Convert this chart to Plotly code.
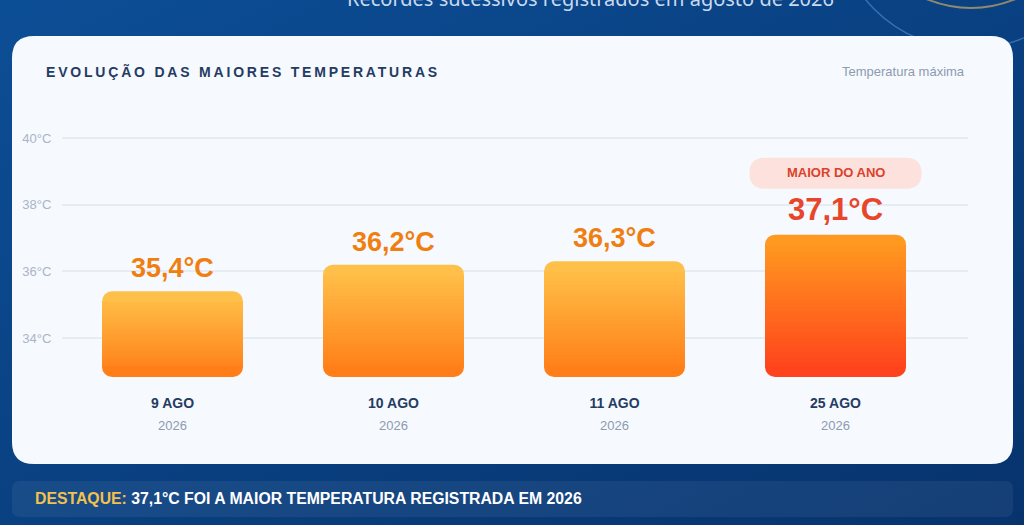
"""Evolução das maiores temperaturas - recriação em Plotly"""
import base64
import plotly.graph_objects as go

W, H = 1024, 525

# dados do gráfico
DATES = ["9 AGO", "10 AGO", "11 AGO", "25 AGO"]
YEARS = ["2026", "2026", "2026", "2026"]
TEMPS = [35.4, 36.2, 36.3, 37.1]
Y_TICKS = [34, 36, 38, 40]
Y_MIN, Y_MAX = 32.83, 41.0

TITLE = "EVOLUÇÃO DAS MAIORES TEMPERATURAS"
UNIT_NOTE = "Temperatura máxima"
SUBTITLE = "Recordes sucessivos registrados em agosto de 2026"
BADGE = "MAIOR DO ANO"
HIGHLIGHT_LABEL = "DESTAQUE:"
HIGHLIGHT_TEXT = "37,1°C FOI A MAIOR TEMPERATURA REGISTRADA EM 2026"

FONT = "Liberation Sans"
NAVY = "#243c62"
GREY = "#8d9bb0"
ORANGE_TXT = "#f07f12"
RED_TXT = "#e8462b"
# gradientes (topo, base) das barras
NORMAL_GRAD = ((255, 196, 76), (255, 122, 20))
RECORD_GRAD = ((255, 158, 32), (255, 62, 28))

# área do gráfico em pixels (passo de 221 px por categoria)
PLOT_L, PLOT_R = 62, 968
STEP = 221


def px(x):
    """pixel horizontal -> fração do papel"""
    return x / W


def py(y):
    """pixel vertical (de cima) -> fração do papel"""
    return 1 - y / H


def rounded_path(x0, y0, x1, y1, r, fx=lambda v: v, fy=lambda v: v):
    """Caminho SVG de um retângulo arredondado"""
    pts = [
        ("M", x0 + r, y0), ("L", x1 - r, y0), ("Q", x1, y0, x1, y0 + r),
        ("L", x1, y1 - r), ("Q", x1, y1, x1 - r, y1), ("L", x0 + r, y1),
        ("Q", x0, y1, x0, y1 - r), ("L", x0, y0 + r), ("Q", x0, y0, x0 + r, y0),
    ]
    out = []
    for p in pts:
        coords = p[1:]
        s = " ".join(f"{fx(coords[i]):.5f},{fy(coords[i + 1]):.5f}"
                     for i in range(0, len(coords), 2))
        out.append(p[0] + s)
    return " ".join(out) + " Z"


def mix(c1, c2, t):
    return "rgb(%d,%d,%d)" % tuple(round(a + (b - a) * t) for a, b in zip(c1, c2))


def fmt(v):
    return f"{v:.1f}".replace(".", ",") + "°C"


rec = TEMPS.index(max(TEMPS))
X = list(range(len(DATES)))
grads = [RECORD_GRAD if i == rec else NORMAL_GRAD for i in X]

fig = go.Figure()

BAR_W = 141 / STEP
RADIUS = 10
EDGE = 0.33  # ~11 px: zona reservada aos cantos arredondados
mids = [(v + Y_MIN) / 2 for v in TEMPS]

# metades arredondadas (topo e base) de cada barra
fig.add_trace(go.Bar(x=X, y=[v - m for v, m in zip(TEMPS, mids)], base=mids,
                     width=BAR_W,
                     marker=dict(color=[mix(g[0], g[1], 0.05) for g in grads],
                                 line=dict(width=0), cornerradius=RADIUS),
                     hoverinfo="skip", showlegend=False))
fig.add_trace(go.Bar(x=X, y=[Y_MIN - m for m in mids], base=mids, width=BAR_W,
                     marker=dict(color=[mix(g[0], g[1], 0.95) for g in grads],
                                 line=dict(width=0), cornerradius=RADIUS),
                     hoverinfo="skip", showlegend=False))

# faixas sobrepostas para o degradê
N = 24
OVER = 0.03
for k in range(N):
    bases, heights, colors = [], [], []
    for i, v in enumerate(TEMPS):
        span = v - Y_MIN - 2 * EDGE
        lo = Y_MIN + EDGE + span * k / N - (OVER if k else 0)
        hi = Y_MIN + EDGE + span * (k + 1) / N + (OVER if k < N - 1 else 0)
        bases.append(lo)
        heights.append(hi - lo)
        t = 1 - ((lo + hi) / 2 - Y_MIN) / (v - Y_MIN)
        colors.append(mix(grads[i][0], grads[i][1], t))
    fig.add_trace(go.Bar(x=X, y=heights, base=bases, width=BAR_W,
                         marker=dict(color=colors, line=dict(width=0)),
                         hoverinfo="skip", showlegend=False))

# fundo em degradê
svg = ('<svg xmlns="http://www.w3.org/2000/svg" width="1024" height="525">'
       '<defs><linearGradient id="g" x1="0" y1="0" x2="1" y2="1">'
       '<stop offset="0" stop-color="#0c4e96"/><stop offset="1" stop-color="#07336d"/>'
       '</linearGradient></defs><rect width="1024" height="525" fill="url(#g)"/></svg>')
bg_src = "data:image/svg+xml;base64," + base64.b64encode(svg.encode()).decode()

shapes = [
    # circulos decorativos
    dict(type="circle", xref="paper", yref="paper", x0=px(835), x1=px(1105),
         y0=py(49), y1=py(-221), line=dict(color="rgba(110,170,235,0.45)", width=1.5),
         layer="below"),
    dict(type="circle", xref="paper", yref="paper", x0=px(856), x1=px(1086),
         y0=py(8), y1=py(-222), line=dict(color="rgba(200,170,100,0.7)", width=2),
         layer="below"),
    # cartão branco
    dict(type="path", xref="paper", yref="paper", layer="below",
         path=rounded_path(12, 36, 1013, 464, 22, px, py),
         fillcolor="#f6f9fe", line=dict(width=0)),
    # faixa de destaque
    dict(type="path", xref="paper", yref="paper", layer="below",
         path=rounded_path(12, 481, 1013, 517, 8, px, py),
         fillcolor="rgba(255,255,255,0.06)", line=dict(width=0)),
    # selo "maior do ano"
    dict(type="path", xref="x", yref="y", xsizemode="pixel", ysizemode="pixel",
         xanchor=rec, yanchor=TEMPS[rec], layer="above",
         path=rounded_path(-86, 46, 86, 77, 15.5),
         fillcolor="#fde1dc", line=dict(width=0)),
]

annotations = [
    dict(text=SUBTITLE, xref="paper", yref="paper", x=px(590), y=py(-2),
         xanchor="center", yanchor="middle", showarrow=False,
         font=dict(family="Noto Sans", size=20, color="#c9daf0")),
    dict(text=f'<span style="letter-spacing:2.8px">{TITLE}</span>',
         xref="paper", yref="paper", x=px(44), y=py(71), xanchor="left",
         yanchor="middle", showarrow=False,
         font=dict(family=FONT, size=14, color=NAVY, weight="bold")),
    dict(text=UNIT_NOTE, xref="paper", yref="paper", x=px(967), y=py(71),
         xanchor="right", yanchor="middle", showarrow=False,
         font=dict(family=FONT, size=13, color=GREY)),
    dict(text=BADGE, x=rec, y=TEMPS[rec], xref="x", yref="y", yshift=62,
         xanchor="center", yanchor="middle", showarrow=False,
         font=dict(family=FONT, size=13, color="#d9432b", weight="bold")),
    dict(text=f'<span style="color:#f2c14e">{HIGHLIGHT_LABEL}</span> {HIGHLIGHT_TEXT}',
         xref="paper", yref="paper", x=px(33), y=py(498), xanchor="left",
         yanchor="middle", showarrow=False,
         font=dict(family=FONT, size=15.8, color="white", weight="bold")),
]
for i, v in enumerate(TEMPS):
    annotations.append(dict(
        text=fmt(v), x=i, y=v, xref="x", yref="y", xanchor="center",
        yanchor="bottom", yshift=6, showarrow=False,
        font=dict(family=FONT, size=31 if i == rec else 27,
                  color=RED_TXT if i == rec else ORANGE_TXT, weight="bold")))
    annotations.append(dict(
        text=YEARS[i], x=i, y=py(425), xref="x", yref="paper", xanchor="center",
        yanchor="middle", showarrow=False,
        font=dict(family=FONT, size=13, color=GREY)))

fig.update_layout(
    width=W, height=H,
    margin=dict(l=0, r=0, t=0, b=0),
    paper_bgcolor="#0a4285",
    plot_bgcolor="rgba(0,0,0,0)",
    barmode="overlay",
    showlegend=False,
    images=[dict(source=bg_src, xref="paper", yref="paper", x=0, y=1, sizex=1,
                 sizey=1, sizing="stretch", xanchor="left", yanchor="top",
                 layer="below")],
    shapes=shapes,
    annotations=annotations,
    xaxis=dict(domain=[px(PLOT_L), px(PLOT_R)],
               range=[-0.5, -0.5 + (PLOT_R - PLOT_L) / STEP],
               tickvals=X, ticktext=[f"<b>{d}</b>" for d in DATES],
               tickfont=dict(family=FONT, size=14, color=NAVY),
               ticks="outside", ticklen=13, tickcolor="rgba(0,0,0,0)",
               showgrid=False, zeroline=False, showline=False, fixedrange=True),
    yaxis=dict(domain=[py(377), py(138 - (Y_MAX - 40) * 100 / 3)],
               range=[Y_MIN, Y_MAX], tickvals=Y_TICKS,
               ticktext=[f"{t}°C" for t in Y_TICKS],
               tickfont=dict(family=FONT, size=13, color="#a9b5c7"),
               ticks="outside", ticklen=7, tickcolor="rgba(0,0,0,0)",
               gridcolor="#e6ecf4", gridwidth=1.5, zeroline=False,
               showline=False, fixedrange=True),
)

fig.write_html(
    "out.html", config={"displayModeBar": False},
    post_script="document.body.style.margin='0';document.body.style.overflow='hidden';")
